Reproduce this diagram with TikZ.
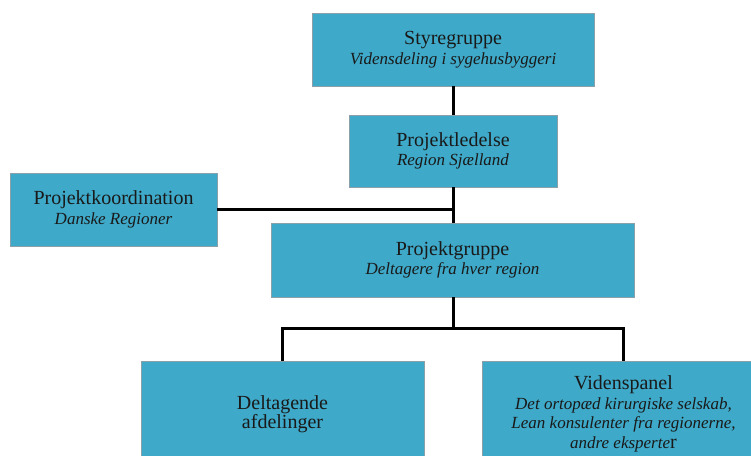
\documentclass[tikz,border=0pt]{standalone}
\usepackage{fontspec}
\setmainfont{Liberation Serif}
\definecolor{boxfill}{RGB}{62,169,200}
\definecolor{boxline}{RGB}{140,160,170}
\newcommand\ttlfont{\fontsize{20}{19.5}\selectfont}
\newcommand\subfont{\fontsize{17}{19.5}\selectfont\itshape}
\tikzset{
  orgbox/.style={draw=boxline, line width=0.8pt, fill=boxfill, align=center,
    inner sep=0pt, text=black!90, font=\fontsize{17}{19.5}\selectfont},
  conn/.style={line width=3pt, black, line join=miter}
}
\begin{document}
\begin{tikzpicture}[x=1pt,y=-1pt]
\useasboundingbox (0,0) rectangle (751,455);
\clip (0,0) rectangle (751,455);
\fill[white] (0,0) rectangle (751,455);
\node[orgbox, minimum width=282pt, minimum height=73pt] (sty) at (453,49.5)
  {\ttlfont Styregruppe\\ \subfont Vidensdeling i sygehusbyggeri};
\node[orgbox, minimum width=208pt, minimum height=72pt] (led) at (453,151)
  {\ttlfont Projektledelse\\ \subfont Region Sjælland};
\node[orgbox, minimum width=207pt, minimum height=73pt] (kor) at (113.5,209.5)
  {\ttlfont Projektkoordination\\ \subfont Danske Regioner};
\node[orgbox, minimum width=363pt, minimum height=74pt] (grp) at (452.5,260)
  {\ttlfont Projektgruppe\\ \subfont Deltagere fra hver region};
\node[orgbox, minimum width=283pt, minimum height=106pt] (del) at (282.5,414)
  {\ttlfont Deltagende\\ \ttlfont afdelinger};
\node[orgbox, minimum width=283pt, minimum height=106pt] (vid) at (623.5,414)
  {\ttlfont Videnspanel\\ \subfont Det ortopæd kirurgiske selskab,\\
   \subfont Lean konsulenter fra regionerne,\\ {\subfont andre eksperte}{\ttlfont r}};
\coordinate (bus) at (453,328);
\draw[conn] (sty.south) -- (led.north);
\draw[conn] (led.south) -- (led.south |- grp.north);
\draw[conn] (kor.east) -- (kor.east -| led.south);
\draw[conn] (grp.south -| bus) -- (bus);
\draw[conn] (del.north) |- (bus) -| (vid.north);
\end{tikzpicture}
\end{document}
